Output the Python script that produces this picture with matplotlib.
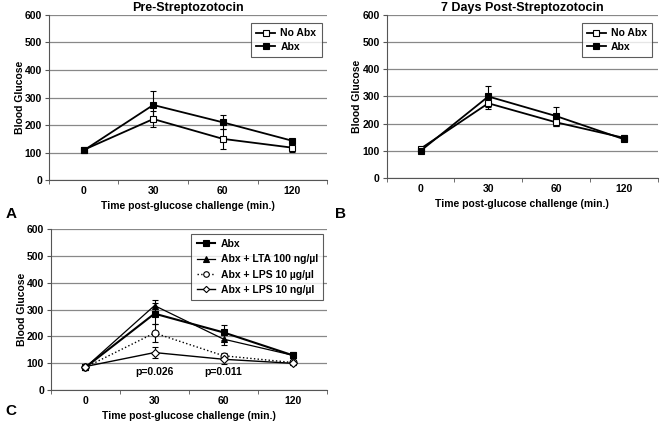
import numpy as np
import matplotlib.pyplot as plt

plt.rcParams['font.family'] = ['Liberation Sans', 'DejaVu Sans']
plt.rcParams['font.weight'] = 'bold'

times = ['0', '30', '60', '120']

# panel A: pre-streptozotocin
a_noabx = [110, 222, 150, 118]
a_noabx_err = [5, 30, 35, 15]
a_abx = [108, 273, 210, 143]
a_abx_err = [5, 50, 25, 6]

# panel B: 7 days post-streptozotocin
b_noabx = [108, 275, 205, 148]
b_noabx_err = [5, 20, 15, 10]
b_abx = [100, 300, 228, 143]
b_abx_err = [5, 40, 35, 6]

# panel C: treatments after antibiotics
c_abx = [85, 285, 215, 130]
c_abx_err = [10, 40, 28, 12]
c_lta = [85, 315, 190, 130]
c_lta_err = [8, 20, 20, 10]
c_lps_ug = [85, 213, 128, 103]
c_lps_ug_err = [8, 35, 12, 8]
c_lps_ng = [88, 140, 115, 100]
c_lps_ng_err = [8, 22, 18, 8]
p_labels = ['p=0.026', 'p=0.011']
p_pos = [1, 2]

x = np.arange(len(times))


def style_axes(ax):
    ax.set_xlim(-0.5, 3.5)
    ax.set_ylim(0, 600)
    ax.set_yticks(range(0, 601, 100))
    ax.yaxis.grid(True, color='#888888', linewidth=0.9)
    ax.set_axisbelow(True)
    ax.spines['top'].set_visible(False)
    ax.spines['right'].set_visible(False)
    ax.spines['left'].set_color('#555555')
    ax.spines['bottom'].set_color('#555555')
    ax.set_xticks(x)
    ax.set_xticklabels(times)
    ax.set_xticks(np.arange(-0.5, 4, 1), minor=True)
    ax.tick_params(axis='x', which='major', length=0, pad=4, labelsize=7.5)
    ax.tick_params(axis='x', which='minor', length=3, direction='out', color='#555555')
    ax.tick_params(axis='y', length=3, pad=2, direction='out', labelsize=7.5, color='#555555')
    ax.set_ylabel('Blood Glucose', fontsize=7.5, fontweight='bold', labelpad=0)
    ax.set_xlabel('Time post-glucose challenge (min.)', fontsize=7.5,
                  fontweight='bold', labelpad=4)


def series(ax, y, err, label, marker, mfc, ls='-', lw=1.3, ms=5):
    ax.errorbar(x, y, yerr=err, color='black', linestyle=ls, linewidth=lw,
                marker=marker, markersize=ms, markerfacecolor=mfc,
                markeredgecolor='black', markeredgewidth=0.8,
                ecolor='black', elinewidth=0.8, capsize=2.5, label=label)


def legend(ax, loc_box, spacing=0.5):
    handles, labels = ax.get_legend_handles_labels()
    handles = [h[0] for h in handles]
    leg = ax.legend(handles, labels, loc='upper right', bbox_to_anchor=loc_box,
                    fontsize=7.5, frameon=True, fancybox=False, handlelength=1.8,
                    handletextpad=0.5, borderpad=0.5, labelspacing=spacing,
                    borderaxespad=0, markerscale=0.8)
    leg.get_frame().set_edgecolor('#333333')
    leg.get_frame().set_linewidth(0.8)


fig = plt.figure(figsize=(6.61, 4.25), dpi=100)

axA = fig.add_axes([0.074, 0.576, 0.421, 0.389])
style_axes(axA)
series(axA, a_noabx, a_noabx_err, 'No Abx', 's', 'white')
series(axA, a_abx, a_abx_err, 'Abx', 's', 'black')
axA.set_title('Pre-Streptozotocin', fontsize=9, fontweight='bold', pad=3)
legend(axA, (0.98, 0.95), spacing=0.35)

axB = fig.add_axes([0.585, 0.581, 0.41, 0.384])
style_axes(axB)
series(axB, b_noabx, b_noabx_err, 'No Abx', 's', 'white')
series(axB, b_abx, b_abx_err, 'Abx', 's', 'black')
axB.set_title('7 Days Post-Streptozotocin', fontsize=9, fontweight='bold', pad=3)
legend(axB, (0.98, 0.95), spacing=0.35)

axC = fig.add_axes([0.077, 0.082, 0.418, 0.379])
style_axes(axC)
series(axC, c_abx, c_abx_err, 'Abx', 's', 'black', lw=1.5)
series(axC, c_lta, c_lta_err, 'Abx + LTA 100 ng/\u00b5l', '^', 'black', lw=0.9)
series(axC, c_lps_ug, c_lps_ug_err, 'Abx + LPS 10 \u00b5g/\u00b5l', 'o', 'white', ls=':', lw=1.0)
series(axC, c_lps_ng, c_lps_ng_err, 'Abx + LPS 10 ng/\u00b5l', 'D', 'white', lw=1.0, ms=4)
legend(axC, (0.985, 0.97))
for px, txt in zip(p_pos, p_labels):
    axC.text(px, 67, txt, ha='center', va='center', fontsize=7.5, fontweight='bold')

fig.text(0.008, 0.497, 'A', fontsize=11, fontweight='bold', va='center')
fig.text(0.507, 0.497, 'B', fontsize=11, fontweight='bold', va='center')
fig.text(0.008, 0.033, 'C', fontsize=11, fontweight='bold', va='center')

fig.savefig('out.png', dpi=100)
